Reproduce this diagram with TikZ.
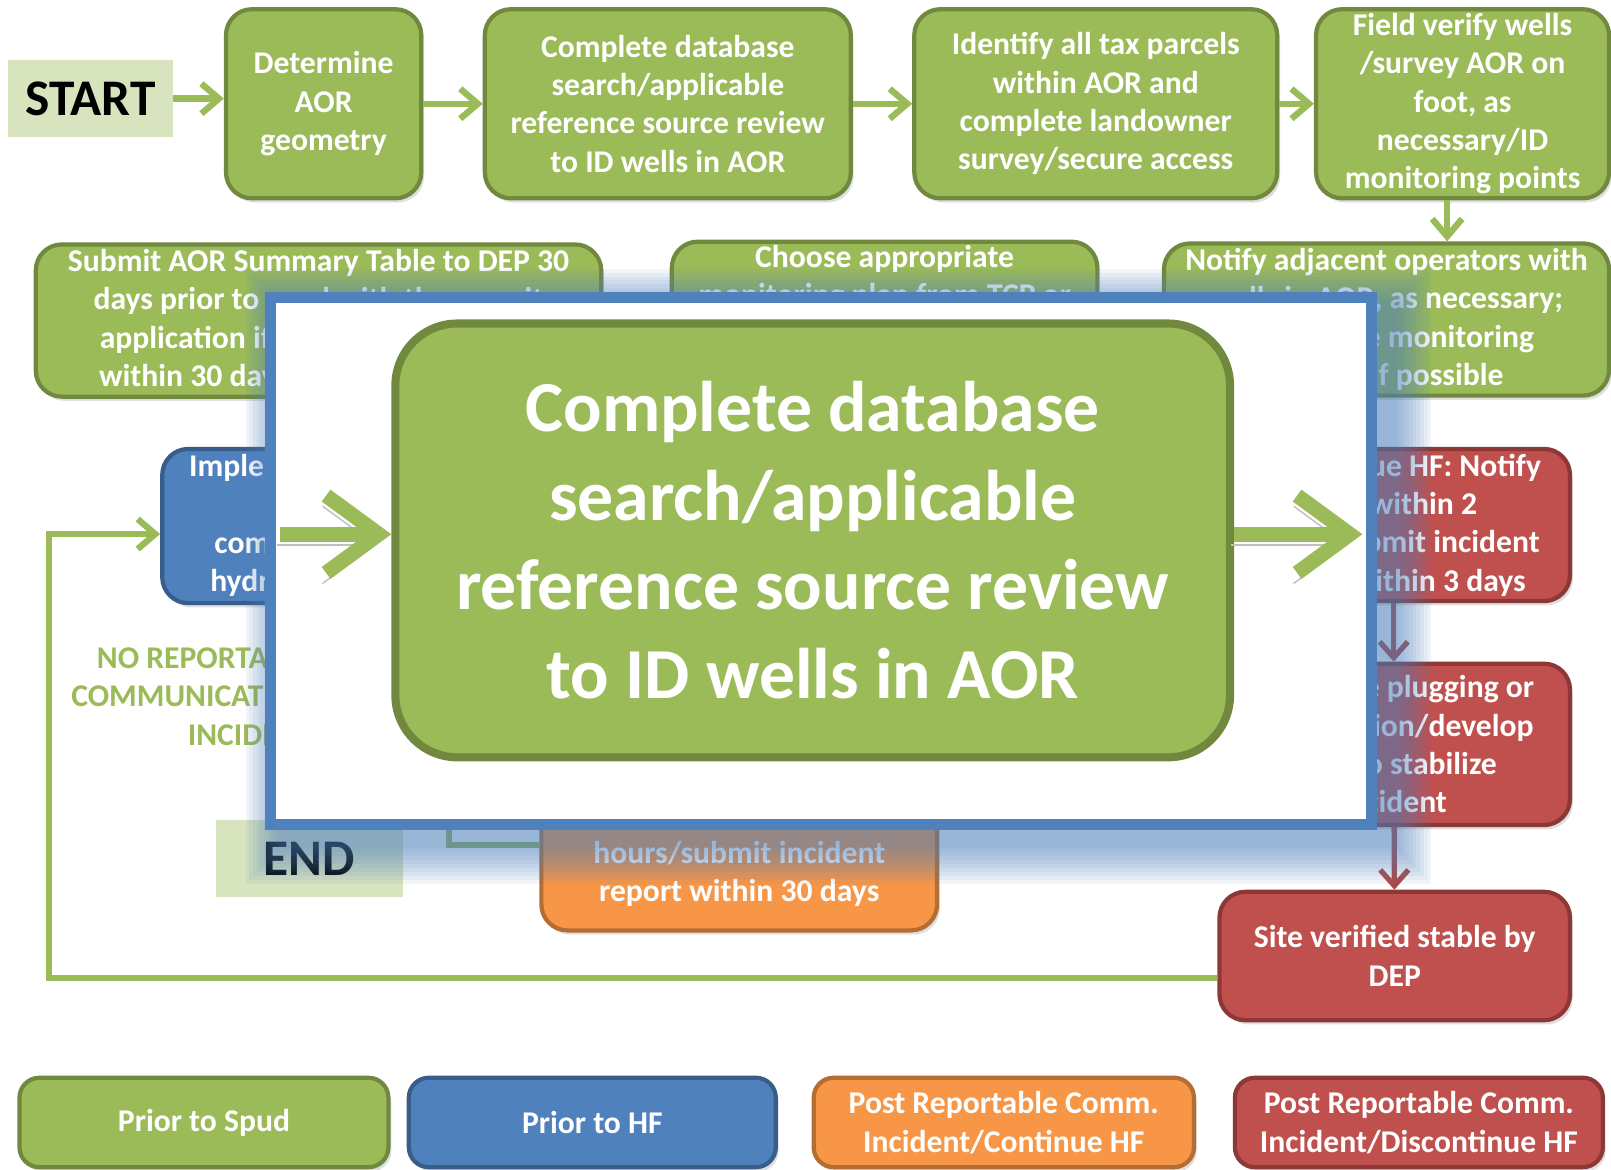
\documentclass[tikz,border=0pt]{standalone}
\usepackage{fontspec}
\setmainfont{Carlito}
\usetikzlibrary{arrows.meta,shadows}
\definecolor{gfill}{HTML}{9BBB59}
\definecolor{gdark}{HTML}{71893F}
\definecolor{bfill}{HTML}{4F81BD}
\definecolor{bdark}{HTML}{385D8A}
\definecolor{ofill}{HTML}{F79646}
\definecolor{odark}{HTML}{B66D31}
\definecolor{rfill}{HTML}{C0504D}
\definecolor{rdark}{HTML}{8C3836}
\definecolor{pale}{HTML}{D7E4BD}
\newcommand{\boxfont}{\fontsize{9}{10.9}\selectfont\bfseries}
\newcommand{\tagfont}{\fontsize{14.6}{17}\selectfont\bfseries}
\newcommand{\zoomfont}{\fontsize{20.4}{25.3}\selectfont\bfseries}
\tikzset{
    stagebox/.style={rounded corners=0.26cm, line width=1.2pt, text=white, font=\boxfont,
        align=center, inner sep=1pt,
        drop shadow={opacity=0.25,shadow xshift=0.8pt,shadow yshift=-1.2pt}},
    gbox/.style={stagebox, fill=gfill, draw=gdark},
    bbox/.style={stagebox, fill=bfill, draw=bdark},
    obox/.style={stagebox, fill=ofill, draw=odark},
    rbox/.style={stagebox, fill=rfill, draw=rdark},
    tagbox/.style={fill=pale, font=\tagfont, inner sep=0pt},
    garrow/.style={draw=gfill, line width=1.8pt, -{Straight Barb[length=5pt,width=8.5pt]}},
    gline/.style={draw=gfill, line width=1.8pt},
    rarrow/.style={draw=rfill!90!black, line width=1.5pt, -{Straight Barb[length=4.5pt,width=8pt]}},
    bigarrow/.style={draw=gfill, line width=4.2pt, -{Straight Barb[length=15pt,width=22pt]},
        preaction={draw=black!25, transform canvas={xshift=-1pt,yshift=-3pt}}}
}
\begin{document}
\begin{tikzpicture}[x=0.010274cm, y=-0.010274cm]
    \useasboundingbox[fill=white] (0,0) rectangle (1568,1138);
    %top row
    \node[tagbox, minimum width=1.644cm, minimum height=0.771cm] (start) at (88,96) {START};
    \node[gbox, minimum width=1.952cm, minimum height=1.890cm] (det) at (315,101) {Determine\\AOR\\geometry};
    \node[gbox, minimum width=3.658cm, minimum height=1.890cm] (cdb) at (650,101) {Complete database\\search/applicable\\reference source review\\to ID wells in AOR};
    \node[gbox, minimum width=3.627cm, minimum height=1.890cm] (tax) at (1066.5,101) {Identify all tax parcels\\within AOR and\\complete landowner\\survey/secure access};
    \node[gbox, inner ysep=0pt, minimum width=2.928cm, minimum height=1.890cm] (fld) at (1423.5,101) {Field verify wells\\/survey AOR on\\foot, as\\necessary/ID\\monitoring points};
    %second row
    \node[gbox, minimum width=5.651cm, minimum height=1.521cm] (sub) at (310,312) {Submit AOR Summary Table to DEP 30\\days prior to spud with the permit\\application if permit not received\\within 30 days of permit issuance};
    \node[gbox, minimum width=4.253cm, minimum height=1.521cm] (cho) at (861,311) {Choose appropriate\\monitoring plan from TCP or\\\strut\\\strut};
    \node[gbox, minimum width=4.449cm, minimum height=1.521cm] (ntf) at (1349.5,311) {Notify adjacent operators with\\wells in AOR, as necessary;\\coordinate monitoring\\efforts, if possible};
    %hydraulic fracturing part
    \node[bbox, minimum width=3.514cm, minimum height=1.541cm] (imp) at (329,512) {Implement monitoring\\prior to\\commencement of\\hydraulic fracturing};
    \node[font=\boxfont, text=gfill, align=right, anchor=east] (norep) at (318,678) {NO REPORTABLE\\COMMUNICATION\\INCIDENT};
    \node[tagbox, minimum width=1.870cm, minimum height=0.771cm] (end) at (301,835.5) {END};
    \node[obox, minimum width=3.955cm, minimum height=1.901cm] (org) at (719.5,813) {Continue HF: Notify\\DEP within 2\\hours/submit incident\\report within 30 days};
    \node[rbox, minimum width=3.524cm, minimum height=1.521cm] (red1) at (1356.5,511) {Discontinue HF: Notify\\DEP within 2\\hours/submit incident\\report within 3 days};
    \node[rbox, minimum width=3.524cm, minimum height=1.613cm] (red2) at (1356.5,724.5) {Complete plugging or\\remediation/develop\\plan to stabilize\\incident};
    \node[rbox, minimum width=3.504cm, minimum height=1.284cm] (red3) at (1357.5,930.5) {Site verified stable by\\DEP};
    %legend
    \node[gbox, rounded corners=0.2cm, minimum width=3.688cm, minimum height=0.894cm] (lgspud) at (198.5,1092.5) {Prior to Spud};
    \node[bbox, rounded corners=0.2cm, minimum width=3.668cm, minimum height=0.894cm] (lghf) at (576.5,1092.5) {Prior to HF};
    \node[obox, rounded corners=0.2cm, minimum width=3.801cm, minimum height=0.894cm] (lgcont) at (977,1092.5) {Post Reportable Comm.\\Incident/Continue HF};
    \node[rbox, rounded corners=0.2cm, minimum width=3.678cm, minimum height=0.894cm] (lgdisc) at (1381,1092.5) {Post Reportable Comm.\\Incident/Discontinue HF};
    %draw arrows
    \draw[garrow] (start.east) -- (start.east -| det.west);
    \draw[garrow] (det) -- (cdb);
    \draw[garrow] (cdb) -- (tax);
    \draw[garrow] (tax) -- (fld);
    \draw[garrow] ([xshift=-0.154cm]fld.south) -- ([xshift=-0.154cm]fld.south |- ntf.north);
    \draw[rarrow] (red1) -- (red2);
    \draw[rarrow] (red2) -- (red3);
    \coordinate (loop) at (48,952);
    \draw[garrow] (red3.west |- loop) -- (loop) |- ([yshift=-0.08cm]imp.west);
    \draw[gline] ([xshift=1.11cm]imp.south) |- ([yshift=-0.1cm]org.west);
    %zoom window
    \foreach \g in {1,...,10}
        {%
            \fill[bfill, opacity=0.08] ({275-3.6*\g},{298-3.6*\g}) rectangle ({1357+3.6*\g},{822+3.8*\g});
        }
    \node[draw=bfill, line width=3.2pt, fill=white, minimum width=11.0cm, minimum height=5.27cm, inner sep=0pt] (zoom) at (799,546) {};
    \node[draw=gdark, fill=gfill, line width=2.3pt, rounded corners=0.62cm, minimum width=8.342cm, minimum height=4.336cm, text=white, font=\zoomfont, align=center] (big) at (791,526) {Complete database\\search/applicable\\reference source review\\to ID wells in AOR};
    \coordinate (zin) at (273,520);
    \coordinate (zout) at (1326,520);
    \draw[bigarrow] (zin) -- (zin -| big.west);
    \draw[bigarrow] (big.east |- zout) -- (zout);
\end{tikzpicture}
\end{document}
